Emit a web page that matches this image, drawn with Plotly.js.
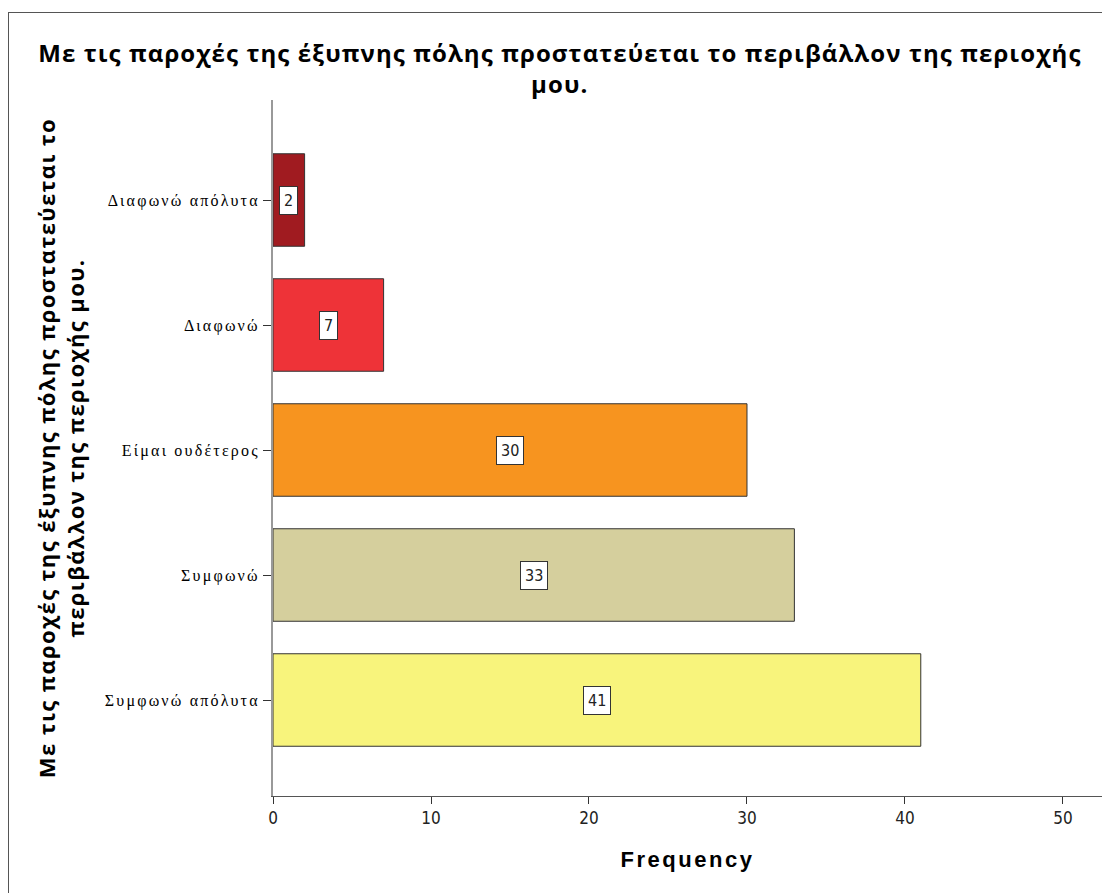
<!DOCTYPE html>
<html><head><meta charset="utf-8">
<script src="https://cdn.plot.ly/plotly-3.0.1.min.js"></script>
<style>
html,body{margin:0;padding:0;background:#fff;}
#frame{position:absolute;left:8px;top:12px;width:1100px;height:885px;border-left:1px solid #555;border-top:1px solid #555;}
#chart{position:absolute;left:0;top:0;width:1102px;height:893px;}
#chart .ytick text{letter-spacing:2.2px;}
#chart .xtitle{letter-spacing:2.5px;}
#chart .gtitle{letter-spacing:1.1px;}
#chart .ytitle{letter-spacing:1.4px;}
</style></head>
<body>
<div id="frame"></div>
<div id="chart"></div>
<script>
const categories = ["Συμφωνώ απόλυτα","Συμφωνώ","Είμαι ουδέτερος","Διαφωνώ","Διαφωνώ απόλυτα"];
const frequencies = [41, 33, 30, 7, 2];
const barColors = ["#F8F47C","#D5CF9D","#F7941F","#EE3338","#A01B20"];
const xTicks = [0,10,20,30,40,50];
const titleText = "Με τις παροχές της έξυπνης πόλης προστατεύεται το περιβάλλον της περιοχής<br>μου.";
const yTitleText = "Με τις παροχές της έξυπνης πόλης προστατεύεται το<br>περιβάλλον της περιοχής μου.";
const xTitleText = "Frequency";

const trace = {
  type: "bar", orientation: "h",
  x: frequencies, y: categories,
  width: 0.74,
  marker: {color: barColors, line: {color: "#333", width: 1}},
  hoverinfo: "none"
};

const annotations = frequencies.map((v, i) => ({
  x: v / 2, y: categories[i], xref: "x", yref: "y",
  text: String(v), showarrow: false,
  font: {family: "DejaVu Sans Condensed, DejaVu Sans", size: 16, color: "#222"},
  bgcolor: "#fff", bordercolor: "#333", borderwidth: 1, borderpad: 4
}));

const layout = {
  width: 1102, height: 893,
  paper_bgcolor: "rgba(0,0,0,0)", plot_bgcolor: "rgba(0,0,0,0)",
  margin: {l: 273, r: 0, t: 100, b: 97},
  showlegend: false,
  title: {text: titleText, x: 0.508, xanchor: "center", y: 0.931, yanchor: "top",
    font: {family: "Open Sans", size: 24, color: "#000", weight: "bold"}},
  xaxis: {
    range: [0, 52.47], tickvals: xTicks, ticks: "outside", ticklen: 7, tickcolor: "#333",
    showline: true, linecolor: "#555", linewidth: 1, showgrid: false, zeroline: false,
    tickfont: {family: "DejaVu Sans Condensed, DejaVu Sans", size: 17, color: "#222"},
    title: {text: xTitleText, standoff: 24, font: {family: "Liberation Sans, Arial", size: 22, color: "#000", weight: "bold"}},
    fixedrange: true
  },
  yaxis: {
    type: "category", categoryorder: "array", categoryarray: categories,
    range: [-0.768, 4.8], ticks: "outside", ticklen: 8, tickcolor: "#333",
    showline: true, linecolor: "#999", linewidth: 2, showgrid: false, zeroline: false,
    tickfont: {family: "Liberation Serif, Times New Roman", size: 16, color: "#000"},
    title: {text: yTitleText, standoff: 47, font: {family: "Open Sans", size: 22, color: "#000", weight: "bold"}},
    fixedrange: true
  },
  annotations: annotations
};

Plotly.newPlot("chart", [trace], layout, {displayModeBar: false, staticPlot: true});
</script>
</body></html>
